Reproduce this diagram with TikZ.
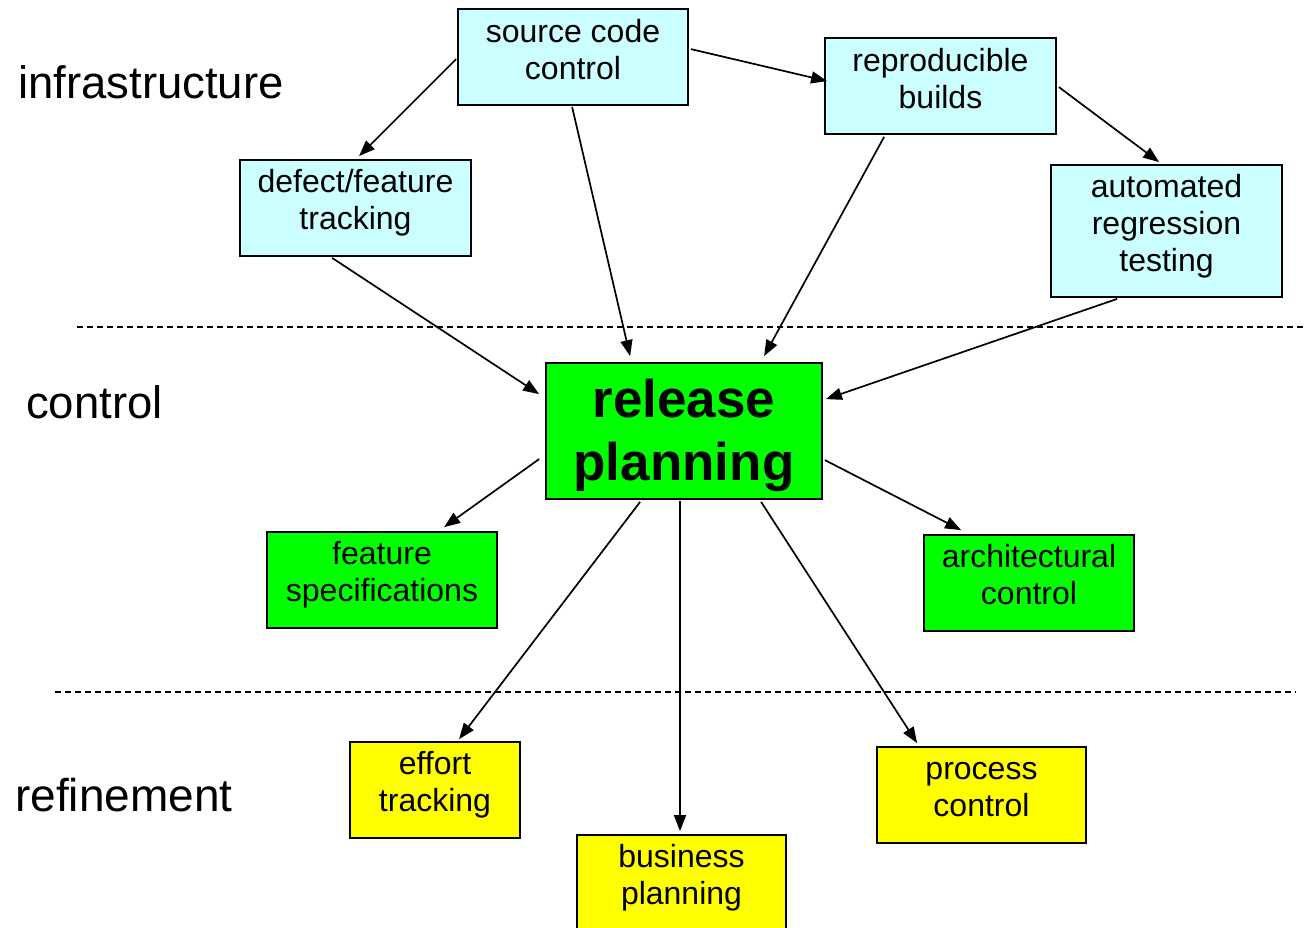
\documentclass[tikz,border=0pt]{standalone}
\usepackage{fontspec}
\setmainfont{Liberation Sans}
\usetikzlibrary{arrows.meta,calc}
\definecolor{infra}{HTML}{CCFFFF}
\definecolor{ctrl}{HTML}{00FF00}
\definecolor{refi}{HTML}{FFFF00}
\tikzset{
  box/.style={draw=black, line width=1.8pt, rectangle, align=center, inner sep=0pt,
    font=\fontsize{32}{37}\selectfont, text height=60pt, text depth=17pt},
  ibox/.style={box, fill=infra},
  cbox/.style={box, fill=ctrl},
  rbox/.style={box, fill=refi},
  conn/.style={line width=1.7pt, -{Triangle[length=16pt,width=12pt]}},
  sep/.style={line width=1.6pt, dash pattern=on 6pt off 4pt},
  lvl/.style={anchor=west, inner sep=0pt, font=\fontsize{45.5}{50}\selectfont}
}
\begin{document}
\begin{tikzpicture}[x=1pt,y=-1pt]
\useasboundingbox (0,0) rectangle (1306,927);
% separators
\coordinate (s1a) at (77,327); \coordinate (s1b) at (1306,327);
\coordinate (s2a) at (55,692); \coordinate (s2b) at (1296,692);
\draw[sep] (s1a) -- (s1b);
\draw[sep] (s2a) -- (s2b);
% level labels
\node[lvl] (linf) at (18,82) {infrastructure};
\node[lvl] (lctl) at (26,402) {control};
\node[lvl, font=\fontsize{46}{50}\selectfont] (lref) at (15,795) {refinement};
% nodes
\node[ibox, minimum width=230pt, minimum height=96pt, text height=61pt] (scc) at (573,57) {source code\\control};
\node[ibox, minimum width=231pt, minimum height=96pt, text height=61pt] (rb) at (940.5,86) {reproducible\\builds};
\node[ibox, minimum width=231pt, minimum height=96pt] (dft) at (355.5,208) {defect/feature\\tracking};
\node[ibox, minimum width=231pt, minimum height=132pt, text height=98pt, text depth=18pt] (art) at (1166.5,231) {automated\\regression\\testing};
\node[cbox, minimum width=276pt, minimum height=136pt, font=\fontsize{53}{63}\selectfont\bfseries, text height=108pt, text depth=10pt] (rp) at (684,431) {release\\planning};
\node[cbox, minimum width=230pt, minimum height=96pt] (fs) at (382,580) {feature\\specifications};
\node[cbox, minimum width=210pt, minimum height=96pt] (ac) at (1029,583) {architectural\\control};
\node[rbox, minimum width=170pt, minimum height=96pt] (et) at (435,790) {effort\\tracking};
\node[rbox, minimum width=209pt, minimum height=96pt] (bp) at (681.5,883) {business\\planning};
\node[rbox, minimum width=209pt, minimum height=96pt] (pc) at (981.5,795) {process\\control};
% connectors
\draw[conn] ($(scc.north west)+(-1,51)$) -- ($(dft.north west)+(120,-3)$);
\draw[conn] ($(scc.south west)+(115,1)$) -- ($(rp.north west)+(85,-6)$);
\draw[conn] ($(scc.north east)+(2,41)$) -- ($(rb.north west)+(3,44)$);
\draw[conn] ($(rb.south west)+(60,2)$) -- ($(rp.north west)+(219,-6)$);
\draw[conn] ($(rb.north east)+(2,50)$) -- ($(art.north west)+(109,-2)$);
\draw[conn] ($(art.south west)+(67,1)$) -- ($(rp.north east)+(3,37)$);
\draw[conn] ($(dft.south west)+(93,1)$) -- ($(rp.north west)+(-6,32)$);
\draw[conn] ($(rp.north west)+(-6,97)$) -- ($(fs.north west)+(178,-4)$);
\draw[conn] ($(rp.north east)+(2,98)$) -- ($(ac.north west)+(38,-4)$);
\draw[conn] ($(rp.south west)+(95,2)$) -- ($(et.north west)+(110,-2)$);
\draw[conn] ($(bp.north |- rp.south)+(-1.5,1)$) -- ($(bp.north)+(-1.5,-3)$);
\draw[conn] ($(rp.south west)+(216,2)$) -- ($(pc.north west)+(41,-3)$);
\end{tikzpicture}
\end{document}
